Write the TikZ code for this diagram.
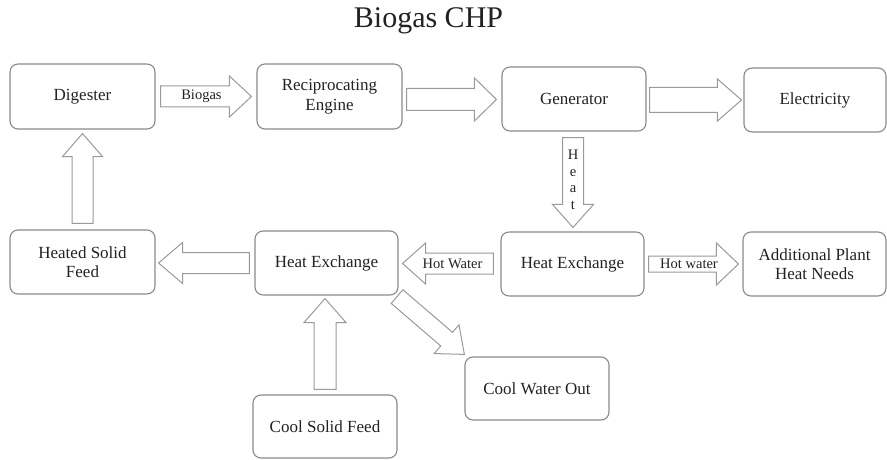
\documentclass[tikz,border=0pt]{standalone}
\usepackage{fontspec}
\setmainfont{Liberation Serif}
\usetikzlibrary{calc}
\definecolor{boxgray}{HTML}{8A8A8A}
\definecolor{arrgray}{HTML}{9A9A9A}
\definecolor{txt}{HTML}{222222}
\tikzset{
  box/.style={draw=boxgray, line width=1.1pt, rounded corners=8pt, minimum width=145pt, minimum height=65pt, inner sep=0pt, align=center, text=txt, font=\fontsize{17}{19.5}\selectfont},
  blockarrow/.style={draw=arrgray, line width=1pt, fill=white, line join=miter},
  alabel/.style={text=txt, font=\fontsize{14.5}{16.5}\selectfont, inner sep=0pt, align=center},
}
\newcommand\blockarr[5]{%
  \path let \p1=(#1), \p2=(#2), \n1={atan2(\y2-\y1,\x2-\x1)}, \n2={veclen(\x2-\x1,\y2-\y1)} in
    \pgfextra{\xdef\baAng{\n1}\xdef\baLen{\n2}\xdef\baX{\x1}\xdef\baY{\y1}};
  \begin{scope}[shift={(\baX,\baY)}, rotate=\baAng]
    \draw[blockarrow] (0,#3) -- ({\baLen-#5},#3) -- ({\baLen-#5},#4) -- (\baLen,0) -- ({\baLen-#5},-#4) -- ({\baLen-#5},-#3) -- (0,-#3) -- cycle;
  \end{scope}}
\begin{document}
\begin{tikzpicture}[x=1pt,y=-1pt]
\useasboundingbox (0,0) rectangle (887,460);
\node[font=\fontsize{30}{36}\selectfont, text=txt, anchor=base, inner sep=0pt] (title) at (428.5,28) {Biogas CHP};
% boxes
\node[box] (dig) at (82.5,96.5) {Digester};
\node[box] (rec) at (329.5,96.5) {Reciprocating\\Engine};
\node[box, minimum width=144pt, minimum height=64pt] (gen) at (574,99) {Generator};
\node[box, minimum width=142pt, minimum height=64pt] (ele) at (815,100) {Electricity};
\node[box, minimum height=64pt] (hsf) at (82.5,262) {Heated Solid\\Feed};
\node[box, minimum width=143pt, minimum height=64pt] (hxl) at (326.5,263) {Heat Exchange};
\node[box, minimum width=143pt, minimum height=64pt] (hxr) at (572.5,264) {Heat Exchange};
\node[box, minimum width=143pt, minimum height=64pt] (apn) at (814.5,264) {Additional Plant\\Heat Needs};
\node[box, minimum width=144pt, minimum height=63pt] (csf) at (325,426.5) {Cool Solid Feed};
\node[box, minimum width=144pt, minimum height=63pt] (cwo) at (537,388.5) {Cool Water Out};
% arrow end points
\coordinate (a1s) at ($(dig.east)+(5,0)$);
\coordinate (a1e) at ($(rec.west)+(-5,0)$);
\coordinate (a2s) at ($(rec.east)+(4,3)$);
\coordinate (a2e) at ($(gen.west)+(-5,0.5)$);
\coordinate (a3s) at ($(gen.east)+(3,1)$);
\coordinate (a3e) at ($(ele.west)+(-2,0)$);
\coordinate (a4s) at ($(gen.south)+(-1,6)$);
\coordinate (a4e) at ($(hxr.north)+(0.5,-4)$);
\coordinate (a5s) at ($(hxr.east)+(4,0)$);
\coordinate (a5e) at ($(apn.west)+(-4,0)$);
\coordinate (a6s) at ($(hxr.west)+(-7,-0.5)$);
\coordinate (a6e) at ($(hxl.east)+(4,0.5)$);
\coordinate (a7s) at ($(hxl.west)+(-5,0)$);
\coordinate (a7e) at ($(hsf.east)+(3,1)$);
\coordinate (a8s) at ($(hsf.north)+(0,-6)$);
\coordinate (a8e) at ($(dig.south)+(0,4)$);
\coordinate (a9s) at ($(csf.north)+(0,-5)$);
\coordinate (a9e) at ($(hxl.south)+(-1.5,3)$);
\coordinate (a10s) at ($(hxl.south east)+(-1.5,1)$);
\coordinate (a10e) at ($(cwo.north west)+(0,-2)$);
% block arrows
\blockarr{a1s}{a1e}{10.5}{20.5}{22}
\blockarr{a2s}{a2e}{11}{21.5}{22}
\blockarr{a3s}{a3e}{12.5}{21}{24}
\blockarr{a4s}{a4e}{10.5}{20.5}{23}
\blockarr{a5s}{a5e}{8}{21}{22}
\blockarr{a6s}{a6e}{10.5}{20.5}{23}
\blockarr{a7s}{a7e}{10.5}{20.5}{24}
\blockarr{a8s}{a8e}{10.5}{20}{23}
\blockarr{a9s}{a9e}{11}{21}{24}
\blockarr{a10s}{a10e}{9}{19}{23.4}
% arrow labels
\node[alabel] (lbio) at ($(a1s)!0.45!(a1e)$) {Biogas};
\node[alabel] (lheat) at ($(a4s)!0.47!(a4e)$) {H\\e\\a\\t};
\node[alabel] (lhw1) at ($(a5s)!0.45!(a5e)$) {Hot water};
\node[alabel] (lhw2) at ($(a6s)!0.45!(a6e)$) {Hot Water};
\end{tikzpicture}
\end{document}
